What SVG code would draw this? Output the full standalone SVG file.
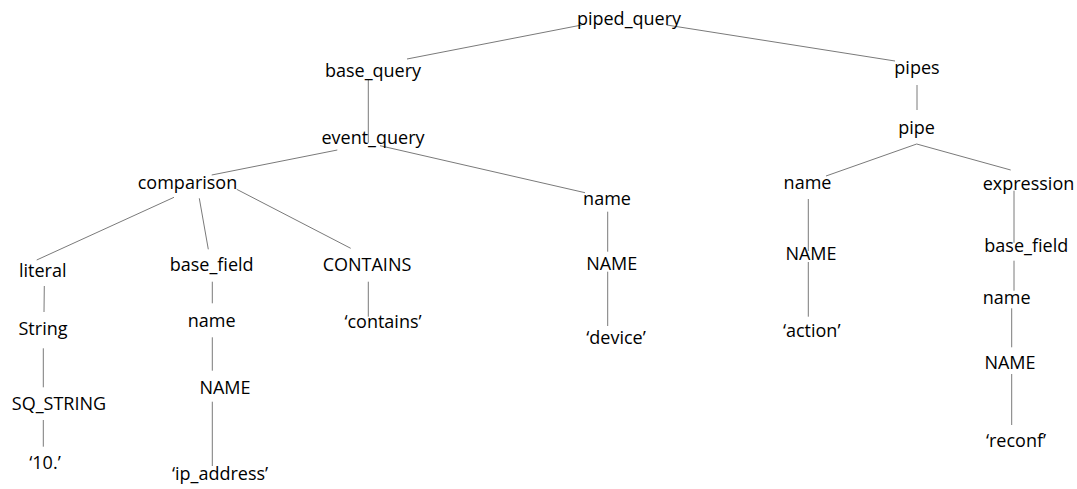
<svg xmlns="http://www.w3.org/2000/svg" width="1077" height="489" viewBox="0 0 1077 489">
  <style>
    .lbl { font-family: "Open Sans", "Noto Sans", "Liberation Sans", sans-serif; font-size: 18px; fill: #000; text-anchor: middle; }
    .edge { stroke: #7a7a7a; stroke-width: 1; fill: none; }
  </style>
  <rect width="1077" height="489" fill="#ffffff"/>

  <!-- tree edges -->
  <g id="connectors">
    <line class="edge" x1="581.7" y1="25" x2="407" y2="59"/>
    <line class="edge" x1="666.7" y1="25" x2="895" y2="61"/>
    <line class="edge" x1="368.3" y1="79.3" x2="368.3" y2="142.7"/>
    <line class="edge" x1="337.3" y1="150" x2="211.7" y2="175"/>
    <line class="edge" x1="380" y1="145.7" x2="585" y2="192.7"/>
    <line class="edge" x1="174" y1="197.3" x2="36.7" y2="260"/>
    <line class="edge" x1="199.3" y1="198.3" x2="208.3" y2="249.3"/>
    <line class="edge" x1="236.7" y1="189.3" x2="350.7" y2="248.3"/>
    <line class="edge" x1="44.3" y1="286" x2="44" y2="312"/>
    <line class="edge" x1="43.3" y1="348.3" x2="43.3" y2="387.3"/>
    <line class="edge" x1="43.3" y1="420" x2="43.3" y2="446.7"/>
    <line class="edge" x1="212.3" y1="281.7" x2="212.3" y2="303.3"/>
    <line class="edge" x1="212.3" y1="337.3" x2="212.3" y2="370.7"/>
    <line class="edge" x1="212.3" y1="401.7" x2="212.3" y2="466"/>
    <line class="edge" x1="368.3" y1="281.7" x2="368.3" y2="316.7"/>
    <line class="edge" x1="607.7" y1="211.7" x2="607.7" y2="251.7"/>
    <line class="edge" x1="607.7" y1="271.7" x2="607.7" y2="326"/>
    <line class="edge" x1="917" y1="85" x2="917" y2="110"/>
    <line class="edge" x1="916.7" y1="144" x2="826" y2="176"/>
    <line class="edge" x1="916.7" y1="144" x2="1010.7" y2="170"/>
    <line class="edge" x1="808.3" y1="199" x2="808.3" y2="251"/>
    <line class="edge" x1="808.3" y1="262" x2="808.3" y2="316.7"/>
    <line class="edge" x1="1014" y1="190.7" x2="1014" y2="242.7"/>
    <line class="edge" x1="1014" y1="260.7" x2="1014" y2="290.7"/>
    <line class="edge" x1="1011.7" y1="308.3" x2="1011.7" y2="347.3"/>
    <line class="edge" x1="1011.7" y1="374" x2="1011.7" y2="425"/>
  </g>

  <!-- nodes -->
  <g id="n-piped-query"><text class="lbl" x="629" y="25">piped_query</text></g>
  <g id="n-base-query"><text class="lbl" x="373" y="76.5">base_query</text></g>
  <g id="n-event-query"><text class="lbl" x="373" y="144">event_query</text></g>
  <g id="n-comparison"><text class="lbl" x="187.5" y="188.5">comparison</text></g>
  <g id="n-literal"><text class="lbl" x="42.7" y="276.5">literal</text></g>
  <g id="n-base-field-1"><text class="lbl" x="211.7" y="271">base_field</text></g>
  <g id="n-contains-kw"><text class="lbl" x="367" y="271">CONTAINS</text></g>
  <g id="n-string"><text class="lbl" x="43" y="335">String</text></g>
  <g id="n-sq-string"><text class="lbl" x="59" y="409.5">SQ_STRING</text></g>
  <g id="n-str-val"><text class="lbl" x="45" y="468.5">‘10.’</text></g>
  <g id="n-name-1"><text class="lbl" x="211.7" y="327">name</text></g>
  <g id="n-NAME-1"><text class="lbl" x="225" y="394">NAME</text></g>
  <g id="n-ip-address"><text class="lbl" x="220" y="480">‘ip_address’</text></g>
  <g id="n-contains-val"><text class="lbl" x="383" y="327.5">‘contains’</text></g>
  <g id="n-name-2"><text class="lbl" x="607" y="205">name</text></g>
  <g id="n-NAME-2"><text class="lbl" x="611.7" y="270">NAME</text></g>
  <g id="n-device"><text class="lbl" x="616" y="344">‘device’</text></g>
  <g id="n-pipes"><text class="lbl" x="917" y="73.5">pipes</text></g>
  <g id="n-pipe"><text class="lbl" x="916.5" y="134">pipe</text></g>
  <g id="n-name-3"><text class="lbl" x="807.5" y="188.5">name</text></g>
  <g id="n-NAME-3"><text class="lbl" x="811" y="260">NAME</text></g>
  <g id="n-action"><text class="lbl" x="811.7" y="336.5">‘action’</text></g>
  <g id="n-expression"><text class="lbl" x="1028.5" y="189.5">expression</text></g>
  <g id="n-base-field-2"><text class="lbl" x="1026.3" y="251.5">base_field</text></g>
  <g id="n-name-4"><text class="lbl" x="1006.7" y="304">name</text></g>
  <g id="n-NAME-4"><text class="lbl" x="1010" y="368.5">NAME</text></g>
  <g id="n-reconf"><text class="lbl" x="1016" y="446.5">‘reconf’</text></g>
</svg>
